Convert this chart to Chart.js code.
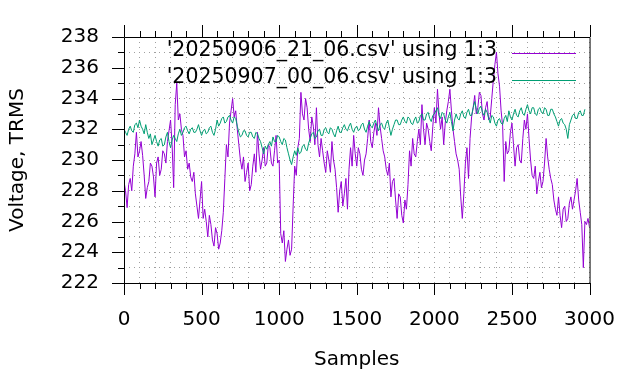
<!DOCTYPE html>
<html>
<head>
<meta charset="utf-8">
<title>Voltage TRMS</title>
<script src="https://cdn.jsdelivr.net/npm/chart.js@4.4.1/dist/chart.umd.min.js"></script>
<style>
  html, body { margin: 0; padding: 0; background: #fff; }
</style>
</head>
<body>
<canvas id="trms-chart" width="640" height="384"></canvas>
<script>
// --- 1. Data (one value every 10 samples) ---

const STEP = 10;

const label0906 = "'20250906_21_06.csv' using 1:3";
const label0907 = "'20250907_00_06.csv' using 1:3";

// 20250906_21_06.csv, column 3 (purple) - one row per 100 samples
const trms0906 = [
  228.6, 228.0, 226.9, 228.4, 228.8, 228.0, 229.6, 230.4, 231.8, 230.2,
  230.6, 231.2, 230.3, 229.0, 227.5, 228.2, 228.6, 229.8, 229.6, 228.9,
  227.6, 229.8, 230.2, 229.0, 229.4, 230.6, 230.4, 229.8, 231.2, 231.9,
  232.6, 231.0, 228.2, 233.6, 235.0, 232.6, 233.0, 232.0, 231.6, 230.2,
  230.6, 229.4, 229.8, 228.9, 228.6, 229.2, 227.8, 227.0, 226.2, 227.4,
  228.6, 226.2, 226.8, 226.0, 225.0, 226.4, 225.8, 224.8, 224.4, 225.6,
  225.2, 224.2, 224.6, 225.4, 226.6, 228.8, 231.0, 230.2, 232.4, 233.2,
  234.0, 232.8, 233.2, 232.0, 231.0, 230.0, 229.4, 230.2, 228.6, 229.2,
  229.8, 228.0, 228.4, 229.6, 230.4, 229.2, 231.8, 230.4, 229.4, 230.0,
  230.8, 229.6, 229.8, 231.0, 230.8, 229.8, 229.6, 230.6, 231.6, 229.8,
  230.0, 225.2, 224.6, 225.4, 223.4, 224.2, 224.8, 223.8, 224.2, 227.0,
  229.6, 229.0, 230.8, 231.4, 234.4, 233.0, 232.6, 234.0, 233.4, 232.0,
  231.2, 232.8, 232.2, 231.0, 233.4, 231.0, 230.2, 231.4, 230.6, 229.8,
  229.2, 230.6, 230.0, 229.2, 231.2, 230.0, 229.4, 228.2, 226.6, 228.0,
  228.6, 227.0, 227.8, 228.8, 226.8, 229.4, 230.8, 229.6, 231.6, 230.4,
  229.6, 230.8, 230.4, 229.4, 229.0, 230.0, 230.4, 231.4, 232.6, 231.2,
  230.8, 231.8, 232.4, 231.6, 233.4, 232.2, 231.4, 230.6, 230.2, 229.4,
  229.0, 229.8, 227.6, 228.6, 228.8, 227.4, 226.2, 227.8, 227.6, 226.4,
  225.9, 227.4, 226.8, 228.4, 230.6, 229.6, 231.4, 230.4, 230.2, 231.2,
  232.0, 231.0, 233.6, 232.0, 231.0, 232.4, 232.0, 231.2, 230.6, 232.2,
  233.4, 232.4, 234.6, 233.0, 232.0, 232.8, 231.0, 232.4, 233.2, 233.8,
  234.6, 233.2, 232.0, 231.2, 230.4, 230.0, 229.4, 227.6, 226.2, 227.8,
  229.8, 230.8, 228.8, 231.4, 232.8, 233.4, 234.2, 233.0, 233.4, 234.4,
  234.2, 233.0, 232.6, 233.4, 233.8, 232.6, 232.8, 234.0, 235.2, 236.2,
  237.0, 235.6, 234.8, 233.2, 232.2, 228.6, 231.2, 230.4, 230.6, 231.8,
  232.4, 231.0, 229.6, 230.8, 231.0, 230.0, 229.8, 231.4, 232.6, 232.0,
  233.0, 231.4, 230.0, 229.0, 228.8, 229.6, 227.8, 228.6, 229.2, 228.2,
  228.6, 229.8, 231.4, 230.2, 229.4, 228.8, 228.4, 227.4, 226.8, 226.4,
  227.6, 226.4, 225.6, 226.8, 227.0, 226.0, 226.2, 227.2, 227.6, 226.8,
  227.4, 228.0, 228.8, 227.4, 226.6, 225.8, 223.0, 226.0, 225.8, 226.2,
  225.6
];

// 20250907_00_06.csv, column 3 (green) - one row per 100 samples
const trms0907 = [
  232.0, 231.8, 231.6, 232.0, 232.2, 231.9, 231.8, 232.3, 232.4, 232.1,
  232.6, 232.2, 232.0, 231.7, 232.3, 231.8, 231.4, 231.7, 231.0, 231.3,
  231.6, 231.2, 230.9, 231.3, 231.4, 230.9, 231.0, 231.5, 231.8, 231.2,
  230.8, 231.3, 231.6, 231.4, 231.2, 231.7, 232.0, 231.6, 231.8, 232.1,
  232.2, 231.9, 231.7, 232.0, 232.1, 231.8, 231.8, 232.0, 232.3, 231.9,
  231.6, 231.9, 232.0, 231.7, 231.8, 232.1, 232.2, 231.8, 231.6, 232.0,
  232.6, 232.2, 232.4, 232.7, 232.8, 232.4, 232.5, 232.8, 232.9, 232.6,
  232.4, 232.8, 232.7, 232.2, 231.8, 231.5, 231.6, 231.9, 231.9, 231.6,
  231.5, 231.8, 231.8, 231.5, 231.4, 231.8, 231.7, 231.4, 231.2, 230.8,
  230.4, 230.9, 230.7, 231.0, 231.2, 230.9, 231.5, 231.2, 231.2, 231.6,
  231.5, 231.2, 231.0, 231.4, 231.3, 230.8, 230.4, 230.0, 229.7, 230.2,
  230.6, 230.3, 230.8, 230.4, 230.5, 230.9, 231.0, 230.7, 230.6, 231.1,
  231.4, 231.7, 231.8, 231.4, 231.5, 231.9, 232.0, 231.6, 231.6, 232.0,
  232.1, 231.8, 231.7, 232.1, 232.0, 231.7, 231.5, 231.9, 232.2, 231.8,
  231.8, 232.1, 232.3, 232.0, 231.9, 232.2, 232.4, 232.0, 231.8, 232.1,
  232.2, 231.9, 232.0, 232.3, 232.4, 232.0, 231.8, 232.2, 232.5, 232.2,
  232.1, 232.4, 232.6, 232.2, 231.9, 232.3, 232.4, 232.1, 232.0, 232.4,
  232.6, 232.1, 231.6, 232.0, 232.3, 232.6, 232.6, 232.3, 232.3, 232.6,
  232.8, 232.5, 232.4, 232.8, 232.7, 232.4, 232.3, 232.6, 232.8, 232.4,
  232.5, 232.9, 233.0, 232.6, 232.6, 233.0, 233.1, 232.7, 232.5, 232.9,
  233.0, 233.2, 233.4, 232.9, 232.7, 233.1, 233.0, 232.6, 232.4, 232.8,
  233.1, 232.5, 231.9, 232.6, 233.0, 232.7, 232.6, 233.0, 233.2, 232.8,
  232.7, 233.1, 233.3, 232.9, 232.9, 233.4, 233.8, 233.3, 233.0, 233.4,
  233.5, 233.1, 232.9, 233.3, 233.1, 232.7, 232.4, 232.9, 232.8, 232.4,
  232.2, 232.6, 232.7, 232.4, 232.3, 232.7, 232.9, 232.5, 233.2, 232.8,
  232.6, 233.0, 233.3, 232.9, 232.8, 233.2, 233.4, 233.0, 232.9, 233.3,
  233.6, 233.2, 233.0, 233.4, 233.4, 233.0, 232.9, 233.3, 233.4, 233.1,
  233.0, 233.4, 233.3, 232.9, 232.9, 233.3, 233.3, 233.0, 232.8, 232.5,
  232.2, 232.6, 232.7, 232.4, 232.3, 232.0, 231.4, 232.3, 232.6, 232.9,
  233.0, 232.7, 232.7, 233.1, 233.2, 232.9, 232.9, 233.3
];

// axis ranges / tick spacing
const X_MIN = 0, X_MAX = 3000, X_MINOR = 100, X_MAJOR = 500;
const Y_MIN = 222, Y_MAX = 238, Y_MINOR = 1, Y_MAJOR = 2;

// --- 2. Chart Setup ---

const FONT = { family: "'DejaVu Sans', sans-serif", size: 20 };
const KEY_FONT_SIZE = 20.5;
const PURPLE = "#9400d3";
const GREEN = "#009e73";

const toPoints = arr => arr.map((v, i) => ({ x: i * STEP, y: v }));

// gnuplot-like frame, outward tics and the key at top right
const gnuplotFrame = {
  id: "gnuplotFrame",
  afterDraw(chart) {
    const { ctx, chartArea: a, scales: { x, y } } = chart;
    ctx.save();
    ctx.strokeStyle = "#000";
    ctx.lineWidth = 1;
    ctx.beginPath();
    ctx.rect(a.left + 0.5, a.top + 0.5, a.right - a.left, a.bottom - a.top);

    for (let v = X_MIN; v <= X_MAX; v += X_MINOR) {
      const px = Math.round(x.getPixelForValue(v)) + 0.5;
      const len = v % X_MAJOR === 0 ? 12 : 6;
      ctx.moveTo(px, a.bottom); ctx.lineTo(px, a.bottom + len);
      ctx.moveTo(px, a.top); ctx.lineTo(px, a.top - len);
    }
    for (let v = Y_MIN; v <= Y_MAX; v += Y_MINOR) {
      const py = Math.round(y.getPixelForValue(v)) + 0.5;
      const len = v % Y_MAJOR === 0 ? 12 : 6;
      ctx.moveTo(a.left, py); ctx.lineTo(a.left - len, py);
    }
    ctx.stroke();

    // key
    ctx.font = `${KEY_FONT_SIZE}px ${FONT.family}`;
    ctx.textAlign = "right";
    ctx.textBaseline = "middle";
    ctx.fillStyle = "#000";
    chart.data.datasets.forEach(ds => {
      const ky = 51 + ds.keyRow * 27;
      ctx.fillText(ds.label, 497, ky);
      ctx.strokeStyle = ds.borderColor;
      ctx.beginPath();
      ctx.moveTo(512, ky + 2.5);
      ctx.lineTo(576, ky + 2.5);
      ctx.stroke();
    });
    ctx.restore();
  }
};

const ctx = document.getElementById("trms-chart").getContext("2d");

const chart = new Chart(ctx, {
  type: "line",
  data: {
    datasets: [
      {
        label: label0907,
        data: toPoints(trms0907),
        borderColor: GREEN,
        borderWidth: 1,
        pointRadius: 0,
        tension: 0,
        order: 1,
        keyRow: 1
      },
      {
        label: label0906,
        data: toPoints(trms0906),
        borderColor: PURPLE,
        borderWidth: 1,
        pointRadius: 0,
        tension: 0,
        order: 2,
        keyRow: 0
      }
    ]
  },
  options: {
    responsive: false,
    animation: false,
    layout: {
      autoPadding: false,
      padding: { top: 28, right: 39, left: 0, bottom: 0 }
    },
    plugins: {
      legend: { display: false },
      tooltip: { enabled: false }
    },
    scales: {
      x: {
        type: "linear",
        min: X_MIN,
        max: X_MAX,
        afterFit: s => { s.height = 101; },
        ticks: {
          stepSize: X_MINOR,
          autoSkip: false,
          maxRotation: 0,
          color: "#000",
          font: FONT,
          padding: 25,
          callback: v => (v % X_MAJOR === 0 ? String(v) : "")
        },
        grid: { color: "#a0a0a0", lineWidth: 1, drawTicks: false },
        border: { display: false, dash: [1, 4] },
        title: {
          display: true,
          text: "Samples",
          color: "#000",
          font: FONT,
          padding: { top: 0, bottom: 12 }
        }
      },
      y: {
        min: Y_MIN,
        max: Y_MAX,
        afterFit: s => { s.width = 124; },
        ticks: {
          stepSize: Y_MINOR,
          autoSkip: false,
          color: "#000",
          font: FONT,
          padding: 25,
          callback: v => (v % Y_MAJOR === 0 ? String(v) : "")
        },
        grid: { color: "#a0a0a0", lineWidth: 1, drawTicks: false },
        border: { display: false, dash: [1, 4] },
        title: {
          display: true,
          text: "Voltage, TRMS",
          color: "#000",
          font: FONT,
          padding: { top: 6, bottom: 0 }
        }
      }
    }
  },
  plugins: [gnuplotFrame]
});
</script>
</body>
</html>
